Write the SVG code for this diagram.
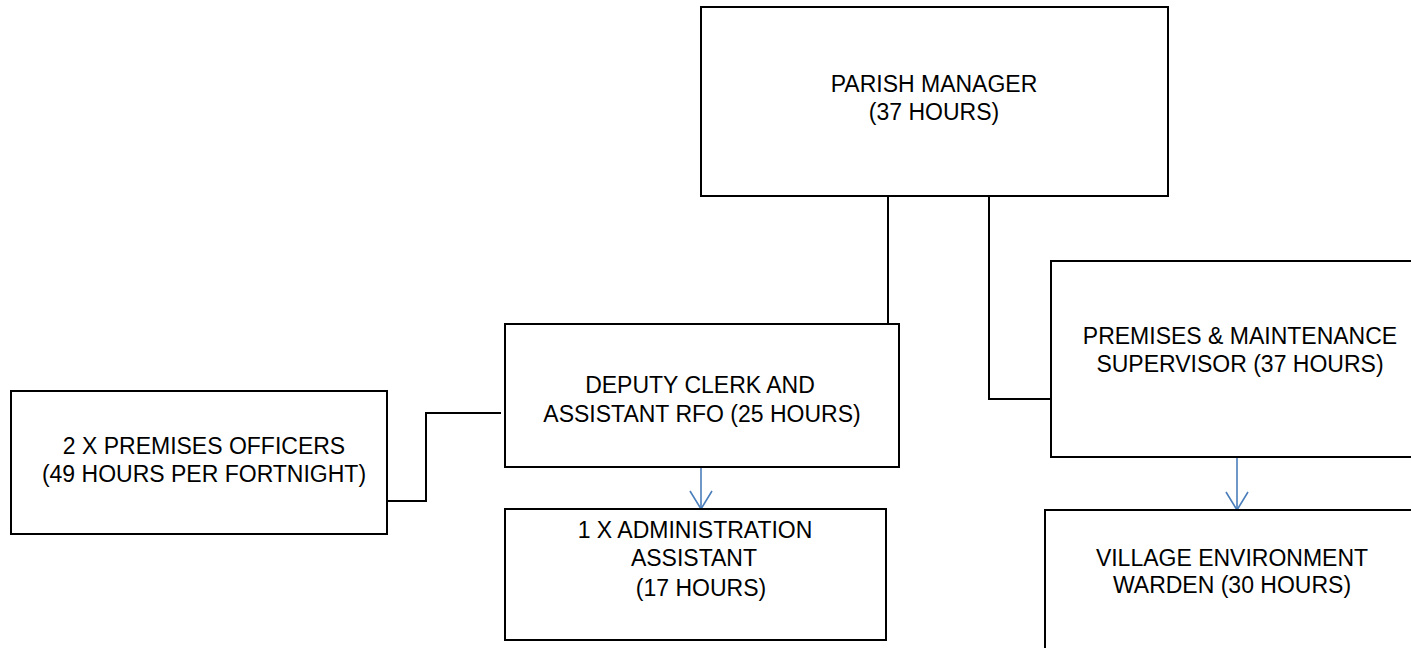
<svg xmlns="http://www.w3.org/2000/svg" width="1411" height="648" viewBox="0 0 1411 648">
<style>
.box{fill:#fff;stroke:#000;stroke-width:2}
.t{font-family:"Liberation Sans",Arial,sans-serif;font-size:23px;fill:#000;text-anchor:middle}
.ln{fill:none;stroke:#000;stroke-width:2}
.ar{fill:none;stroke:#4a7ebb;stroke-width:1.6}
</style>
<rect width="1411" height="648" fill="#fff"/>
<g id="connectors">
<polyline class="ln" points="888,196 888,324"/>
<polyline class="ln" points="989,196 989,399 1051,399"/>
<polyline class="ln" points="387,501 426,501 426,413 501,413"/>
<line class="ar" x1="701" y1="467" x2="701" y2="509"/>
<polyline class="ar" points="690,491 701,509 712,491"/>
<line class="ar" x1="1237" y1="457" x2="1237" y2="510"/>
<polyline class="ar" points="1226,492 1237,510 1248,492"/>
</g>
<g id="parish-manager">
<rect class="box" x="701" y="7" width="467" height="189"/>
<text class="t" x="934" y="92">PARISH MANAGER</text>
<text class="t" x="934" y="120">(37 HOURS)</text>
</g>
<g id="deputy-clerk">
<rect class="box" x="505" y="324" width="394" height="143"/>
<text class="t" x="700" y="393">DEPUTY CLERK AND</text>
<text class="t" x="702" y="422">ASSISTANT RFO (25 HOURS)</text>
</g>
<g id="premises-officers">
<rect class="box" x="11" y="391" width="376" height="143"/>
<text class="t" x="204" y="454">2 X PREMISES OFFICERS</text>
<text class="t" x="204" y="482">(49 HOURS PER FORTNIGHT)</text>
</g>
<g id="admin-assistant">
<rect class="box" x="505" y="509" width="381" height="131"/>
<text class="t" x="695" y="538">1 X ADMINISTRATION</text>
<text class="t" x="694" y="566">ASSISTANT</text>
<text class="t" x="701" y="596">(17 HOURS)</text>
</g>
<g id="premises-supervisor">
<rect class="box" x="1051" y="261" width="380" height="196"/>
<text class="t" x="1240" y="344">PREMISES &amp; MAINTENANCE</text>
<text class="t" x="1240" y="372">SUPERVISOR (37 HOURS)</text>
</g>
<g id="village-warden">
<rect class="box" x="1045" y="510" width="390" height="160"/>
<text class="t" x="1232" y="566">VILLAGE ENVIRONMENT</text>
<text class="t" x="1232" y="593">WARDEN (30 HOURS)</text>
</g>
</svg>
